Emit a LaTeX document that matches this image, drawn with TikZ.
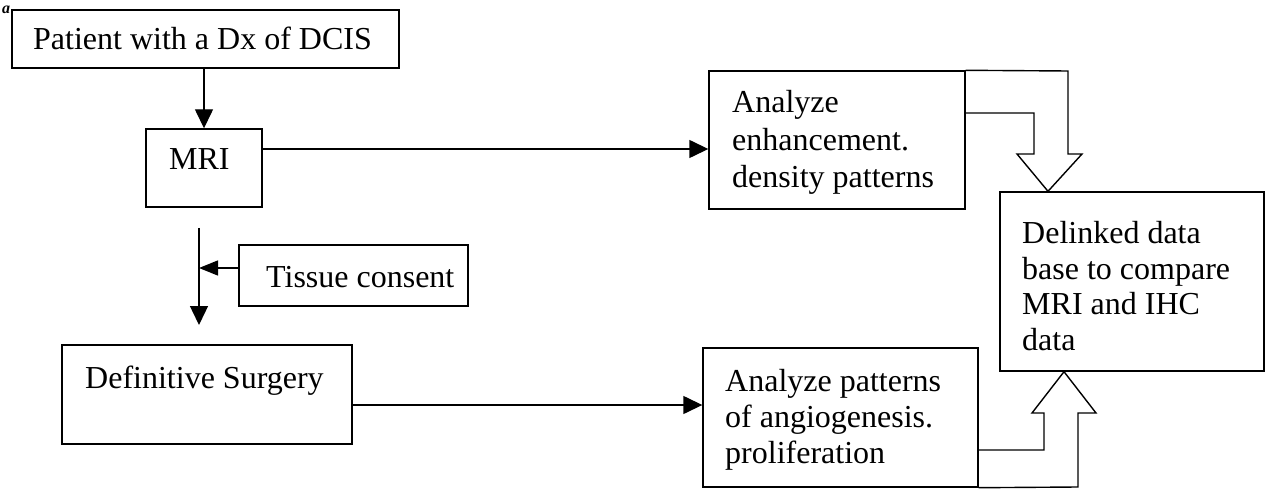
\documentclass[tikz,border=0pt]{standalone}
\usepackage{fontspec}
\setmainfont{Liberation Serif}
\usetikzlibrary{arrows.meta,calc}
\begin{document}
\begin{tikzpicture}[x=1pt,y=-1pt,
  box/.style={draw, line width=1.4pt, rectangle, inner sep=0pt},
  txt/.style={inner sep=0pt, anchor=base west, align=left, font=\fontsize{32}{36}\selectfont},
  arr/.style={line width=1.4pt, -{Triangle[length=19pt,width=18pt]}},
  ln/.style={line width=1.4pt, line join=miter}]
\useasboundingbox (0,0) rectangle (1269,489);

% boxes
\node[box, minimum width=387pt, minimum height=58pt] (top) at (205.5,39) {};
\node[box, minimum width=116pt, minimum height=78pt] (mri) at (204,168) {};
\node[box, minimum width=256pt, minimum height=138pt] (enh) at (837,140) {};
\node[box, minimum width=264pt, minimum height=179pt] (del) at (1132,281.5) {};
\node[box, minimum width=229pt, minimum height=61pt] (tis) at (353.5,275.5) {};
\node[box, minimum width=290pt, minimum height=99pt] (surg) at (207,394.5) {};
\node[box, minimum width=275pt, minimum height=139pt] (ang) at (840.5,417.5) {};

% texts (multi-line texts are anchored at the baseline of their last line)
\node[txt] (ttop) at (33,50) {Patient with a Dx of DCIS};
\node[txt] (tmri) at (169,170) {MRI};
\node[txt, font=\fontsize{32}{37.5}\selectfont] (tenh) at (732,188) {Analyze\\enhancement.\\density patterns};
\node[txt, font=\fontsize{32}{35.5}\selectfont] (tdel) at (1022,350) {Delinked data\\base to compare\\MRI and IHC\\data};
\node[txt] (ttis) at (266,287) {Tissue consent};
\node[txt] (tsurg) at (85,388) {Definitive Surgery};
\node[txt] (tang) at (725,463) {Analyze patterns\\of angiogenesis.\\proliferation};
\node[inner sep=0pt, anchor=base, font=\fontsize{16}{16}\selectfont\bfseries\itshape] (mark) at (6,14) {a};

% connectors
\draw[arr] (mri.north |- top.south) -- (mri.north);
\draw[arr] ([yshift=19pt]mri.east) coordinate (m1) -- (m1 -| enh.west);
\draw[arr] ([yshift=-10.5pt]surg.east) coordinate (s1) -- (s1 -| ang.west);
\coordinate (v1) at (199,228);
\coordinate (v2) at (199,325);
\draw[arr] (v1) -- (v2);
\draw[ln, -{Triangle[length=19pt,width=15pt]}] ([yshift=7.5pt]tis.west) coordinate (t1) -- (t1 -| v1);

% block arrow from enhancement box down to database
\draw[ln] (enh.north east) -- (1068,71) -- (1068,154) -- (1082,154) -- (1048,191 |- del.north)
  -- (1017,154) -- (1034,154) -- (1034,113) -- (enh.east |- 0,113);
% block arrow from angiogenesis box up to database
\draw[ln] (ang.east |- 0,450) -- (1044,450) -- (1044,413) -- (1032,413) -- (1064,371 |- del.south)
  -- (1096,413) -- (1078,413) -- (1078,487) -- (ang.south east);
\end{tikzpicture}
\end{document}
